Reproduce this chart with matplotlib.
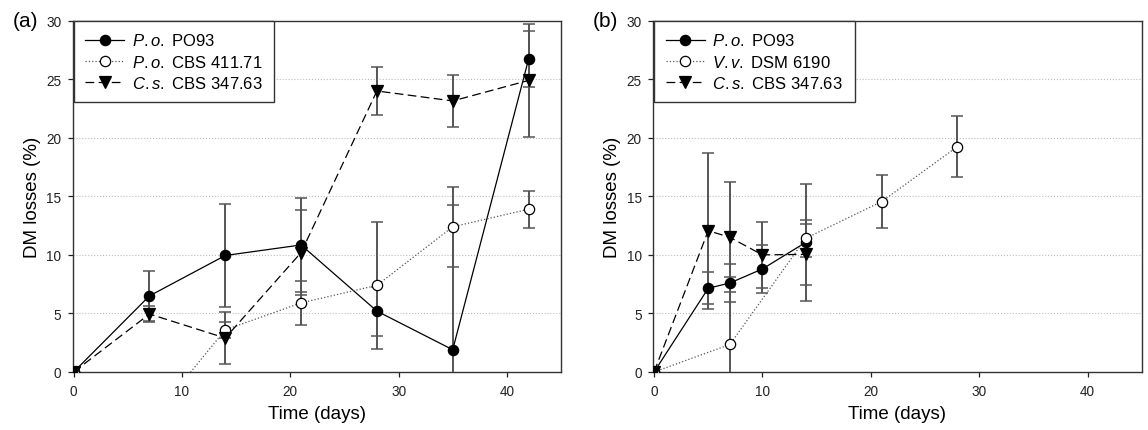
import matplotlib
matplotlib.use("Agg")
import matplotlib.pyplot as plt

plt.rcParams['font.family'] = ['Liberation Sans', 'DejaVu Sans']
plt.rcParams['mathtext.fontset'] = 'custom'
plt.rcParams['mathtext.rm'] = 'Liberation Sans'
plt.rcParams['mathtext.it'] = 'Liberation Sans:italic'

# ---- panel (a) data ----
days_a = [0, 7, 14, 21, 28, 35, 42]
po93_a = [0, 6.5, 9.95, 10.85, 5.2, 1.9, 26.7]
po93_a_err = [0, 2.15, 4.4, 4.05, 2.1, 12.35, 2.4]
cbs411_a = [0, -4.3, 3.6, 5.9, 7.4, 12.4, 13.9]
cbs411_a_err = [0, 0, 0.7, 1.85, 5.45, 3.4, 1.6]
cs_a = [0, 4.95, 2.9, 10.2, 24.0, 23.15, 24.9]
cs_a_err = [0, 0.65, 2.2, 3.65, 2.05, 2.2, 4.8]
# braces around the dots stop mathtext adding punctuation space
labels_a = [r'$\it{P{.}o{.}}$ PO93', r'$\it{P{.}o{.}}$ CBS 411.71',
            r'$\it{C{.}s{.}}$ CBS 347.63']

# ---- panel (b) data ----
days_b = [0, 5, 7, 10, 14]
po93_b = [0, 7.15, 7.6, 8.8, 11.07]
po93_b_err = [0, 1.38, 1.6, 2.03, 4.97]
days_vv = [0, 7, 14, 21, 28]
vv_b = [0, 2.35, 11.42, 14.55, 19.25]
vv_b_err = [0, 5.75, 1.56, 2.25, 2.6]
cs_b = [0, 12.07, 11.5, 10.0, 10.05]
cs_b_err = [0, 6.67, 4.7, 2.8, 2.6]
labels_b = [r'$\it{P{.}o{.}}$ PO93', r'$\it{V{.}v{.}}$ DSM 6190',
            r'$\it{C{.}s{.}}$ CBS 347.63']

ERR_COLOR = '#555555'


def draw_series(ax, x, y, err, style, marker, face, label, color='black'):
    ax.errorbar(x, y, yerr=err, fmt='none', ecolor=ERR_COLOR, elinewidth=1.4,
                capsize=4.2, capthick=1.1, zorder=3)
    size = 8.2 if marker == 'v' else 7.4
    ax.plot(x, y, linestyle=style, color=color, linewidth=0.9, marker=marker,
            markersize=size, markerfacecolor=face, markeredgecolor='black',
            markeredgewidth=0.9, label=label, zorder=4)


def style_axes(ax):
    ax.set_xlim(-0.1, 45)
    ax.set_ylim(0, 30)
    ax.set_xticks([0, 10, 20, 30, 40])
    ax.set_yticks([0, 5, 10, 15, 20, 25, 30])
    for yv in [5, 10, 15, 20, 25]:
        ax.axhline(yv, color='#bdbdbd', linestyle=':', linewidth=0.8, zorder=1)
    ax.tick_params(direction='out', length=3.6, width=0.9,
                   labelsize=9.8, colors='#222222')
    ax.tick_params(axis='x', pad=5)
    ax.tick_params(axis='y', pad=4.5)
    for sp in ax.spines.values():
        sp.set_linewidth(1.0)
        sp.set_color('#333333')
    ax.set_xlabel('Time (days)', fontsize=13.5, labelpad=5)
    ax.set_ylabel('DM losses (%)', fontsize=13.5, labelpad=4)
    leg = ax.legend(loc='upper left', bbox_to_anchor=(0.002, 1.0),
                    borderaxespad=0, fontsize=12, frameon=True, fancybox=False,
                    edgecolor='#333333', framealpha=1, handlelength=2.35,
                    handletextpad=0.45, labelspacing=0.31, borderpad=0.7)
    leg.get_frame().set_linewidth(1.0)
    leg.set_zorder(10)


fig = plt.figure(figsize=(11.48, 4.31), dpi=100)
ax_a = fig.add_axes([0.0632, 0.1346, 0.4255, 0.815])
ax_b = fig.add_axes([0.5688, 0.1346, 0.4257, 0.815])

draw_series(ax_a, days_a, po93_a, po93_a_err, '-', 'o', 'black', labels_a[0])
draw_series(ax_a, days_a, cbs411_a, cbs411_a_err, ':', 'o', 'white', labels_a[1], color='#555555')
draw_series(ax_a, days_a, cs_a, cs_a_err, (0, (7, 3.5)), 'v', 'black', labels_a[2])
style_axes(ax_a)

draw_series(ax_b, days_b, po93_b, po93_b_err, '-', 'o', 'black', labels_b[0])
draw_series(ax_b, days_vv, vv_b, vv_b_err, ':', 'o', 'white', labels_b[1], color='#555555')
draw_series(ax_b, days_b, cs_b, cs_b_err, (0, (7, 3.5)), 'v', 'black', labels_b[2])
style_axes(ax_b)

fig.text(0.0113, 0.9367, '(a)', fontsize=15, va='baseline')
fig.text(0.5166, 0.9367, '(b)', fontsize=15, va='baseline')

fig.savefig('out.png', dpi=100)
plt.close(fig)
